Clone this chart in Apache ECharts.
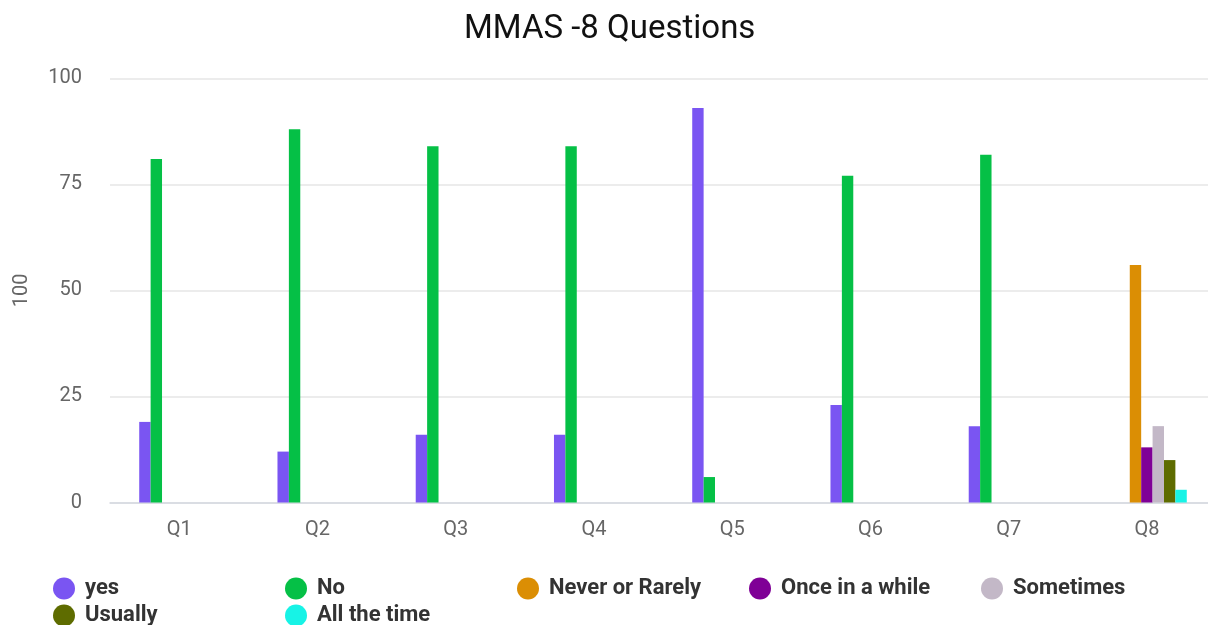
<!DOCTYPE html>
<html>
<head>
<meta charset="utf-8">
<title>MMAS -8 Questions</title>
<script src="https://cdn.jsdelivr.net/npm/echarts@6/dist/echarts.min.js"></script>
<style>
  html, body { margin: 0; padding: 0; background: #ffffff; }
  #chart { width: 1208px; height: 625px; }
</style>
</head>
<body>
<div id="chart"></div>
<script>
// Questions on the category axis
const questions = ['Q1', 'Q2', 'Q3', 'Q4', 'Q5', 'Q6', 'Q7', 'Q8'];

// Answer share per question (percent)
const yesValues       = [19, 12, 16, 16, 93, 23, 18, 0];
const noValues        = [81, 88, 84, 84, 6, 77, 82, 0];
const neverValues     = [0, 0, 0, 0, 0, 0, 0, 56];
const onceValues      = [0, 0, 0, 0, 0, 0, 0, 13];
const sometimesValues = [0, 0, 0, 0, 0, 0, 0, 18];
const usuallyValues   = [0, 0, 0, 0, 0, 0, 0, 10];
const allTimeValues   = [0, 0, 0, 0, 0, 0, 0, 3];

const seriesNames = ['yes', 'No', 'Never or Rarely', 'Once in a while', 'Sometimes', 'Usually', 'All the time'];
const seriesValues = [yesValues, noValues, neverValues, onceValues, sometimesValues, usuallyValues, allTimeValues];
const seriesColors = ['#7a55f2', '#05c046', '#db8e04', '#7f0096', '#c3b8c7', '#5e6c00', '#17f3e6'];

// Y axis ticks
const yMin = 0, yMax = 100, yStep = 25;

const chart = echarts.init(document.getElementById('chart'), null, { renderer: 'canvas' });

const fontFamily = 'Roboto, "Noto Sans", sans-serif';

chart.setOption({
  animation: false,
  backgroundColor: '#ffffff',
  color: seriesColors,
  title: {
    text: 'MMAS -8 Questions',
    left: 459,
    top: 8,
    textStyle: { fontFamily, fontSize: 33, fontWeight: 'normal', color: '#111111' }
  },
  legend: {
    left: 48,
    top: 572.5,
    width: 1190,
    orient: 'horizontal',
    icon: 'circle',
    itemWidth: 32,
    itemHeight: 22,
    itemGap: 5,
    textStyle: {
      fontFamily, fontSize: 22, fontWeight: 'bold', color: '#333333',
      width: 195, lineHeight: 22, overflow: 'truncate'
    },
    data: seriesNames
  },
  grid: {
    left: 110,
    top: 78.3,
    width: 1106,
    height: 424.2,
    outerBoundsMode: 'none'
  },
  xAxis: {
    type: 'category',
    data: questions,
    axisLine: { show: true, lineStyle: { color: '#d4d7e0', width: 1.5 } },
    axisTick: { show: false },
    axisLabel: { fontFamily, fontSize: 20, color: '#666666', margin: 17 }
  },
  yAxis: {
    type: 'value',
    min: yMin,
    max: yMax,
    interval: yStep,
    name: '100',
    nameLocation: 'middle',
    nameGap: 78,
    nameTextStyle: { fontFamily, fontSize: 20, color: '#666666' },
    axisLine: { show: false },
    axisTick: { show: false },
    axisLabel: { fontFamily, fontSize: 20, color: '#666666', margin: 28 },
    splitLine: { lineStyle: { color: '#e6e6e6', width: 1.5 } }
  },
  series: seriesNames.map((name, i) => ({
    name,
    type: 'bar',
    data: seriesValues[i],
    barWidth: 11.4,
    barGap: '0%',
    itemStyle: { color: seriesColors[i] }
  }))
});
</script>
</body>
</html>
